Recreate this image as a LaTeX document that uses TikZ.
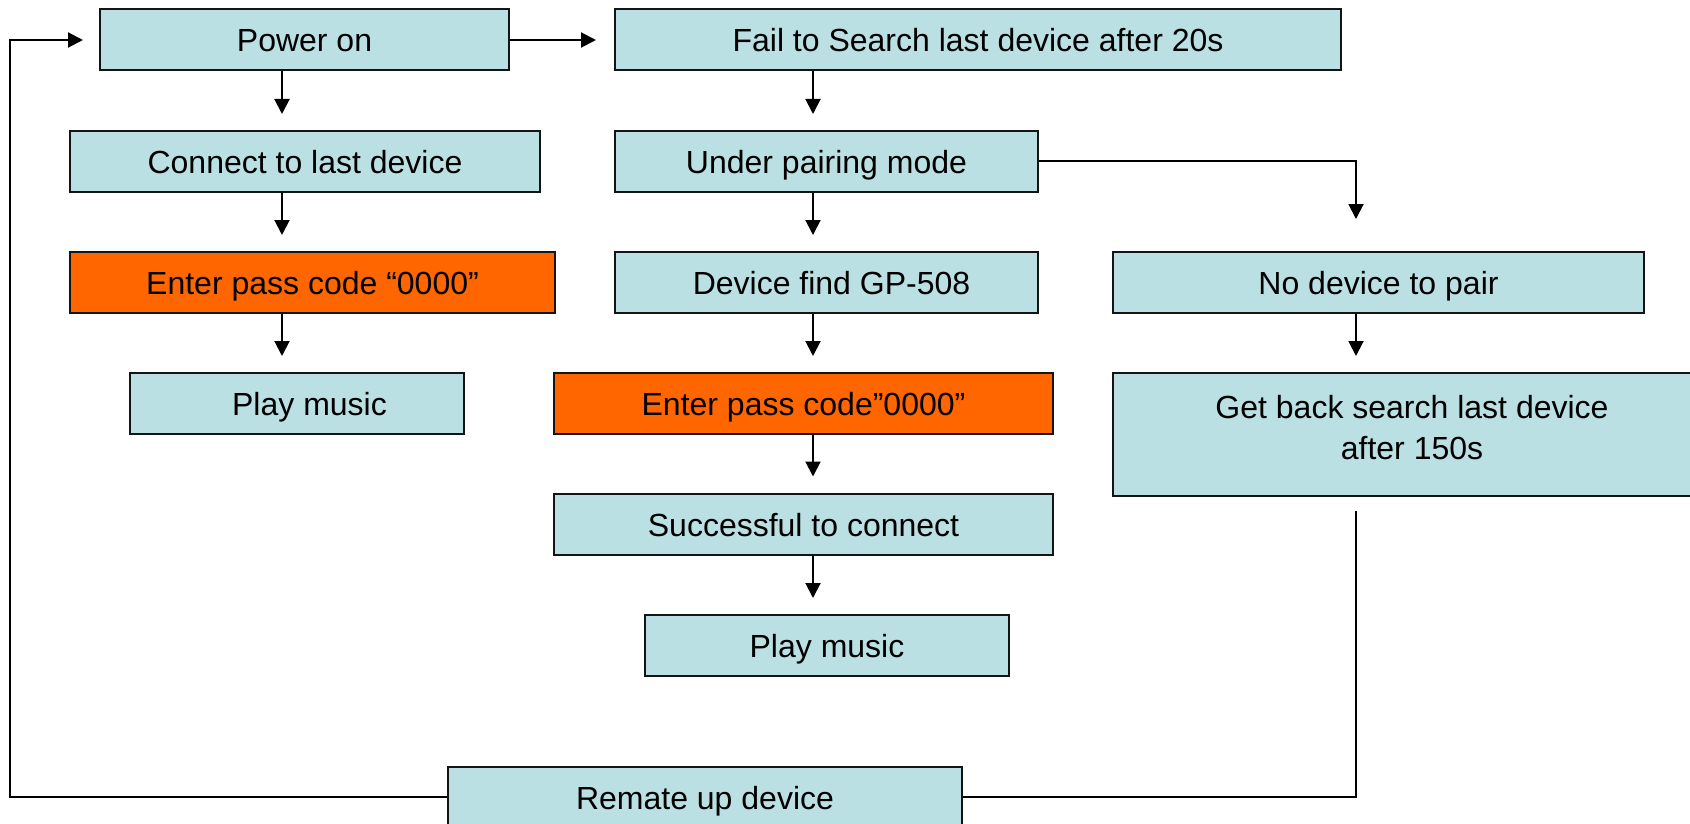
\documentclass[tikz,border=0pt]{standalone}
\usepackage{fontspec}
\setmainfont{Liberation Sans}
\usetikzlibrary{arrows.meta}
\definecolor{boxblue}{RGB}{187,224,227}
\definecolor{boxorange}{RGB}{255,102,0}
\definecolor{edge}{RGB}{20,20,20}
\tikzset{
  boxbase/.style={draw=edge, line width=2pt, fill=boxblue, minimum height=61pt,
    inner sep=0pt, font=\fontsize{32}{41}\selectfont, align=center},
  fbox/.style={boxbase, text height=24pt, text depth=0pt},
  obox/.style={fbox, fill=boxorange},
  arr/.style={draw=black, line width=2pt, -{Triangle[length=15pt,width=15pt]}, shorten >=16pt},
  plain/.style={draw=black, line width=2pt}
}
\begin{document}
\begin{tikzpicture}[x=1pt,y=-1pt]
\useasboundingbox (0,0) rectangle (1690,824);
\clip (0,0) rectangle (1690,824);
% nodes
\node[fbox, minimum width=409pt] (pow) at (304.5,40) {Power on};
\node[fbox, minimum width=726pt] (fail) at (978,40) {Fail to Search last device after 20s};
\node[fbox, minimum width=470pt] (con) at (305,161.5) {Connect to last device};
\node[fbox, minimum width=423pt] (under) at (826.5,161.5) {Under pairing mode};
\node[obox, minimum width=485pt] (enter1) at (312.5,282.5) {Enter pass code “0000”};
\node[fbox, minimum width=423pt] (devf) at (826.5,282.5) {\hspace*{10pt}Device find GP-508};
\node[fbox, minimum width=531pt] (nodev) at (1378.5,282.5) {No device to pair};
\node[fbox, minimum width=334pt] (play1) at (297,403.5) {\hspace*{25pt}Play music};
\node[obox, minimum width=499pt] (enter2) at (803.5,403.5) {Enter pass code”0000”};
\node[boxbase, minimum width=598pt, minimum height=123pt] (getback) at (1412,434.5) {Get back search last device\\after 150s\\[-27pt]};
\node[fbox, minimum width=499pt] (succ) at (803.5,524) {Successful to connect};
\node[fbox, minimum width=364pt] (play2) at (827,645.5) {Play music};
\node[fbox, minimum width=514pt] (rem) at (705,797) {Remate up device};
% helper coordinates
\coordinate (lx) at (282,0);
\coordinate (mx) at (813,0);
\coordinate (rx) at (1356,0);
\coordinate (loopL) at (10,797);
\coordinate (gbs) at (1356,511);
% connectors
\draw[arr] (pow.south -| lx) -- (con.north -| lx);
\draw[arr] (con.south -| lx) -- (enter1.north -| lx);
\draw[arr] (enter1.south -| lx) -- (play1.north -| lx);
\draw[arr, shorten >=18pt] (pow.east) -- (fail.west);
\draw[arr] (fail.south -| mx) -- (under.north -| mx);
\draw[arr] (under.south -| mx) -- (devf.north -| mx);
\draw[arr] (devf.south -| mx) -- (enter2.north -| mx);
\draw[arr] (enter2.south -| mx) -- (succ.north -| mx);
\draw[arr] (succ.south -| mx) -- (play2.north -| mx);
\draw[arr, shorten >=32pt] (under.east) -| (nodev.north -| rx);
\draw[arr] (nodev.south -| rx) -- (getback.north -| rx);
\draw[plain] (gbs) |- (rem.east);
\draw[arr] (rem.west) -- (loopL) |- (pow.west);
\end{tikzpicture}
\end{document}
